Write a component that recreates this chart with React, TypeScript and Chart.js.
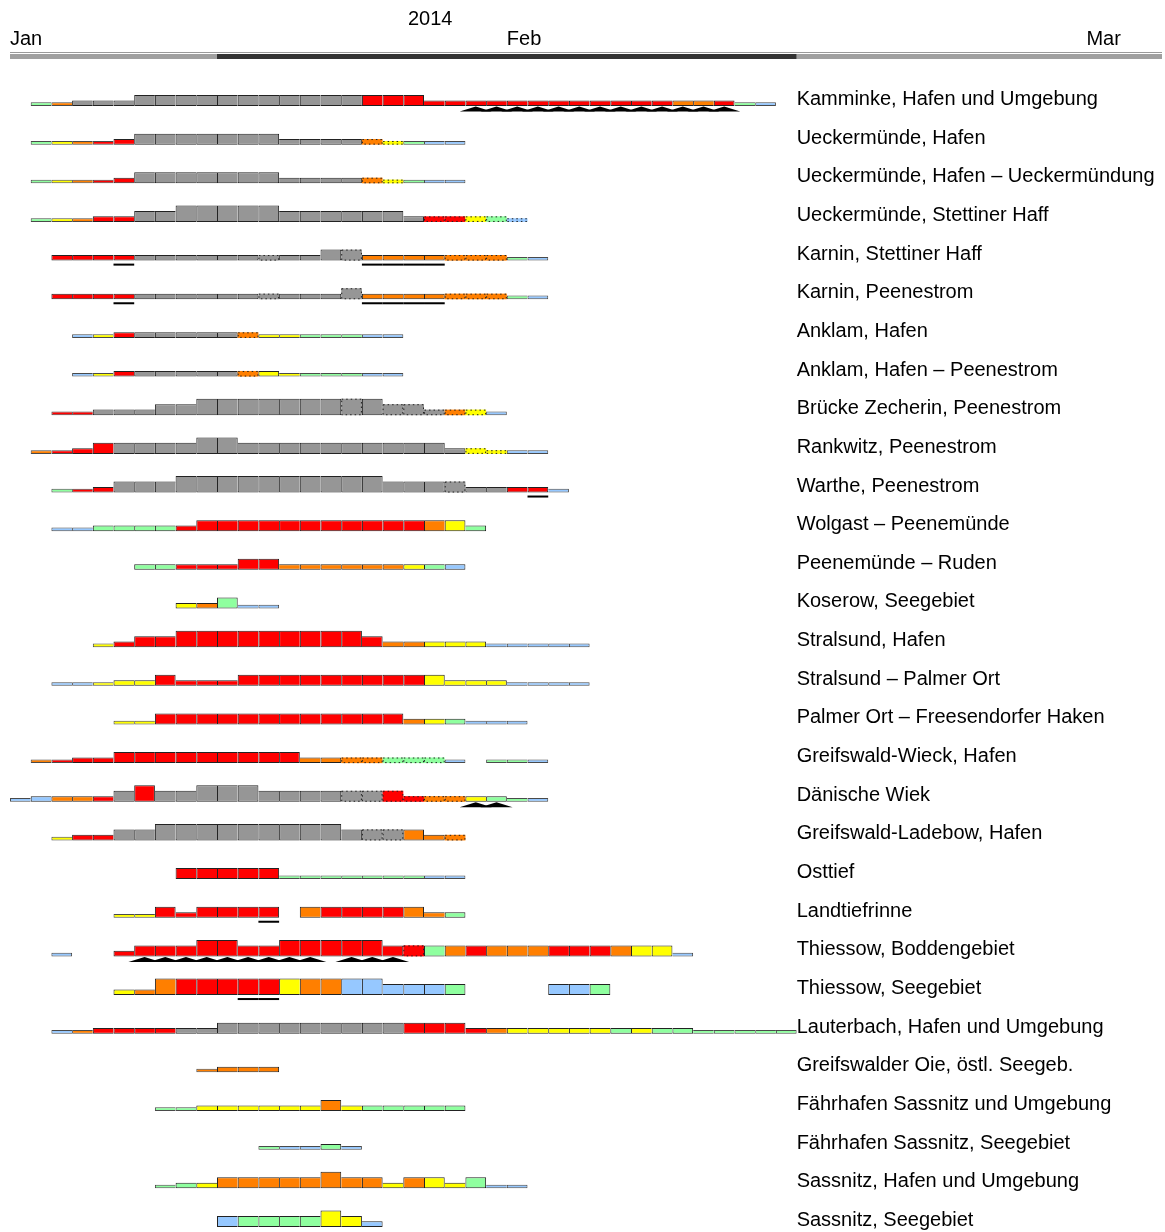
import React, { useEffect, useRef } from 'react';
import { Chart, registerables } from 'chart.js';

Chart.register(...registerables);

// ---------- data ----------
const rowLabels = [
  'Kamminke, Hafen und Umgebung',
  'Ueckermünde, Hafen',
  'Ueckermünde, Hafen – Ueckermündung',
  'Ueckermünde, Stettiner Haff',
  'Karnin, Stettiner Haff',
  'Karnin, Peenestrom',
  'Anklam, Hafen',
  'Anklam, Hafen – Peenestrom',
  'Brücke Zecherin, Peenestrom',
  'Rankwitz, Peenestrom',
  'Warthe, Peenestrom',
  'Wolgast – Peenemünde',
  'Peenemünde – Ruden',
  'Koserow, Seegebiet',
  'Stralsund, Hafen',
  'Stralsund – Palmer Ort',
  'Palmer Ort – Freesendorfer Haken',
  'Greifswald-Wieck, Hafen',
  'Dänische Wiek',
  'Greifswald-Ladebow, Hafen',
  'Osttief',
  'Landtiefrinne',
  'Thiessow, Boddengebiet',
  'Thiessow, Seegebiet',
  'Lauterbach, Hafen und Umgebung',
  'Greifswalder Oie, östl. Seegeb.',
  'Fährhafen Sassnitz und Umgebung',
  'Fährhafen Sassnitz, Seegebiet',
  'Sassnitz, Hafen und Umgebung',
  'Sassnitz, Seegebiet',
];

// first day of each row (days counted from 8 Jan 2014)
const rowStarts = [1, 1, 1, 1, 2, 2, 3, 3, 2, 1, 2, 2, 6, 8, 4, 2, 5, 1, 0, 2, 8, 5, 2, 5, 2, 9, 7, 12, 7, 10];

// daily codes: letter = ice type, digit = thickness class, d = dotted, u = underline, t = ridges, '-' = no report
const rowCells: string[][] = [
  ['g1','o1','s2','s2','s2','s3','s3','s3','s3','s3','s3','s3','s3','s3','s3','s3','r3','r3','r3','r2','r2','r2t','r2t','r2t','r2t','r2t','r2t','r2t','r2t','r2t','r2t','o2t','o2t','r2t','g1','b1'],
  ['g1','y1','o1','r1','r2','s3','s3','s3','s3','s3','s3','s3','s2','s2','s2','s2','o2d','y1d','g1','b1','b1'],
  ['g1','y1','o1','r1','r2','s3','s3','s3','s3','s3','s3','s3','s2','s2','s2','s2','o2d','y1d','g1','b1','b1'],
  ['g1','y1','o1','r2','r2','s3','s3','s4','s4','s4','s4','s4','s3','s3','s3','s3','s3','s3','s2','r2d','r2d','y2d','g2d','b1d'],
  ['r2','r2','r2','r2u','s2','s2','s2','s2','s2','s2','s2d','s2','s2','s3','s3d','o2u','o2u','o2u','o2u','o2d','o2d','o2d','g1','b1'],
  ['r2','r2','r2','r2u','s2','s2','s2','s2','s2','s2','s2d','s2','s2','s2','s3d','o2u','o2u','o2u','o2u','o2d','o2d','o2d','g1','b1'],
  ['b1','y1','r2','s2','s2','s2','s2','s2','o2d','y1','y1','g1','g1','g1','b1','b1'],
  ['b1','y1','r2','s2','s2','s2','s2','s2','o2d','y2','y1','g1','g1','g1','b1','b1'],
  ['r1','r1','s2','s2','s2','s3','s3','s4','s4','s4','s4','s4','s4','s4','s4d','s4','s3d','s3d','s2d','o2d','y2d','b1'],
  ['o1','r1','r2','r3','s3','s3','s3','s3','s4','s4','s3','s3','s3','s3','s3','s3','s3','s3','s3','s3','s2','y2d','y1d','b1','b1'],
  ['g1','r1','r2','s3','s3','s3','s4','s4','s4','s4','s4','s4','s4','s4','s4','s4','s3','s3','s3','s3d','s2','s2','r2','r2u','b1'],
  ['b1','b1','g2','g2','g2','g2','r2','r3','r3','r3','r3','r3','r3','r3','r3','r3','r3','r3','o3','y3','g2'],
  ['g2','g2','r2','r2','r2','r3','r3','o2','o2','o2','o2','o2','o2','y2','g2','b2'],
  ['y2','o2','g3','b1','b1'],
  ['y1','r2','r3','r3','r4','r4','r4','r4','r4','r4','r4','r4','r4','r3','o2','o2','y2','y2','y2','b1','b1','b1','b1','b1'],
  ['b1','b1','y1','y2','y2','r3','r2','r2','r2','r3','r3','r3','r3','r3','r3','r3','r3','r3','y3','y2','y2','y2','b1','b1','b1','b1'],
  ['y1','y1','r3','r3','r3','r3','r3','r3','r3','r3','r3','r3','r3','r3','o2','y2','g2','b1','b1','b1'],
  ['o1','r1','r2','r2','r3','r3','r3','r3','r3','r3','r3','r3','r3','o2','o2','o2d','o2d','g2d','g2d','g2d','b1','-','g1','g1','b1'],
  ['b1','b2','o2','o2','r2','s3','r4','s3','s3','s4','s4','s4','s3','s3','s3','s3','s3d','s3d','r3d','r2d','o2d','o2d','y2t','g2t','g1','b1'],
  ['y1','r2','r2','s3','s3','s4','s4','s4','s4','s4','s4','s4','s4','s4','s3','s3d','s3d','o3','o2','o2d'],
  ['r3','r3','r3','r3','r3','g1','g1','g1','g1','g1','g1','g1','b1','b1'],
  ['y1','y1','r3','r2','r3','r3','r3','r3u','-','o3','r3','r3','r3','r3','o3','o2','g2'],
  ['b1','-','-','r2','r3t','r3t','r3t','r4t','r4t','r3t','r3t','r4t','r4t','r4','r4t','r4t','r3t','r3d','g3','o3','r3','o3','o3','o3','r3','r3','r3','o3','y3','y3','b1'],
  ['y2','o2','o4','r4','r4','r4','r4u','r4u','y4','o4','o4','b4','b4','b3','b3','b3','g3','-','-','-','-','b3','b3','g3'],
  ['b1','o1','r2','r2','r2','r2','s2','s2','s3','s3','s3','s3','s3','s3','s3','s3','s3','r3','r3','r3','r2','o2','y2','y2','y2','y2','y2','g2','y2','g2','g2','g1','g1','g1','g1','g1'],
  ['o1','o2','o2','o2'],
  ['g1','g1','y2','y2','y2','y2','y2','y2','o3','y2','g2','g2','g2','g2','g2'],
  ['g1','b1','b1','g2','b1'],
  ['g1','g2','y2','o3','o3','o3','o3','o3','o4','o3','o3','y2','o3','y3','y2','g3','b1','b1'],
  ['b3','g3','g3','g3','g3','y4','y3','b2'],
];

const monthTicks = [0, 24, 52];
const monthLabels = ['Jan', 'Feb', 'Mar'];
const yearLabel = '2014';
const yearCenterDay = 20.3;
const seasonSpan = [10, 38];
const labelDay = 38;
const axisMaxDay = 55.65;

// ---------- styles ----------
const iceColors: Record<string, string> = {
  s: '#969696',
  r: '#ff0000',
  o: '#ff7f00',
  y: '#ffff00',
  g: '#8fff9f',
  b: '#96c8ff',
};
const levelHeight = [0, 0.095, 0.145, 0.285, 0.427];
const FONT = '"Liberation Sans", Arial, Helvetica, sans-serif';

type Cell = { day: number; type: string; level: number; dotted: boolean; under: boolean; tri: boolean };

function parseRow(start: number, codes: string[]): Cell[] {
  const out: Cell[] = [];
  codes.forEach((code, k) => {
    if (code === '-') return;
    out.push({
      day: start + k,
      type: code[0],
      level: Number(code[1]),
      dotted: code.includes('d'),
      under: code.includes('u'),
      tri: code.includes('t'),
    });
  });
  return out;
}

const parsedRows = rowCells.map((codes, i) => parseRow(rowStarts[i], codes));

const overlayPlugin = {
  id: 'iceOverlay',
  afterDatasetsDraw(chart: any) {
    const { ctx } = chart;
    const xs = chart.scales.x;
    const ys = chart.scales.y;
    ctx.save();
    parsedRows.forEach((cells, i) => {
      const base = ys.getPixelForValue(i);
      cells.forEach((c) => {
        const x0 = xs.getPixelForValue(c.day);
        const x1 = xs.getPixelForValue(c.day + 1);
        const top = ys.getPixelForValue(i - levelHeight[c.level]);
        if (c.dotted) {
          ctx.strokeStyle = '#222';
          ctx.lineWidth = 1;
          ctx.setLineDash([1.5, 3]);
          ctx.strokeRect(x0 + 0.5, top + 0.5, x1 - x0 - 1, base - top - 1);
          ctx.setLineDash([]);
        }
        if (c.under) {
          ctx.fillStyle = '#000';
          ctx.fillRect(x0, base + 3, x1 - x0, 2);
        }
        if (c.tri) {
          const cx = (x0 + x1) / 2;
          const w = (x1 - x0) * 0.78;
          ctx.fillStyle = '#000';
          ctx.beginPath();
          ctx.moveTo(cx - w, base + 5.5);
          ctx.lineTo(cx + w, base + 5.5);
          ctx.lineTo(cx, base + 0.5);
          ctx.closePath();
          ctx.fill();
        }
      });
      ctx.fillStyle = '#000';
      ctx.font = `20px ${FONT}`;
      ctx.textAlign = 'left';
      ctx.textBaseline = 'alphabetic';
      ctx.fillText(rowLabels[i], xs.getPixelForValue(labelDay), base - 1);
    });

    // header bar
    const hx0 = xs.getPixelForValue(0);
    const hx1 = xs.getPixelForValue(axisMaxDay);
    const d0 = xs.getPixelForValue(seasonSpan[0]);
    const d1 = xs.getPixelForValue(seasonSpan[1]);
    ctx.fillStyle = '#9a9a9a';
    ctx.fillRect(hx0, 52, hx1 - hx0, 1);
    ctx.fillStyle = '#a0a0a0';
    ctx.fillRect(hx0, 54, d0 - hx0, 5);
    ctx.fillRect(d1, 54, hx1 - d1, 5);
    ctx.fillStyle = '#333';
    ctx.fillRect(d0, 54, d1 - d0, 5);

    ctx.fillStyle = '#000';
    ctx.font = `20px ${FONT}`;
    ctx.textAlign = 'center';
    ctx.textBaseline = 'middle';
    ctx.fillText(yearLabel, xs.getPixelForValue(yearCenterDay), 19);
    ctx.restore();
  },
};

export default function App() {
  const ref = useRef<HTMLCanvasElement | null>(null);

  useEffect(() => {
    if (!ref.current) return;
    const datasets = parsedRows.map((cells, i) => {
      const byDay = new Map<number, Cell>();
      cells.forEach((c) => byDay.set(c.day, c));
      const solidH = (c?: Cell) => (c && !c.dotted ? levelHeight[c.level] : -1);
      const borders = cells.map((c) => {
        if (c.dotted) return 0;
        const h = levelHeight[c.level];
        const prev = solidH(byDay.get(c.day - 1));
        const next = solidH(byDay.get(c.day + 1));
        return { top: 1, bottom: 1, left: prev <= h ? 1 : 0, right: next < h ? 1 : 0 };
      });
      return {
        label: rowLabels[i],
        data: cells.map((c) => ({ x: c.day + 0.5, y: [i - levelHeight[c.level], i] })),
        backgroundColor: cells.map((c) => iceColors[c.type]),
        borderColor: cells.map((c) => (c.level === 1 ? '#4a4a4a' : '#222222')),
        borderWidth: (ctx: any) => borders[ctx.dataIndex],
        borderSkipped: false,
        inflateAmount: 0,
        grouped: false,
        barPercentage: 1,
        categoryPercentage: 1,
      };
    });

    const chart = new Chart(ref.current, {
      type: 'bar',
      data: { datasets: datasets as any },
      options: {
        animation: false,
        responsive: false,
        devicePixelRatio: 1,
        layout: { padding: { left: 10, right: 3, top: 0, bottom: 0 } },
        plugins: { legend: { display: false }, tooltip: { enabled: false } },
        scales: {
          x: {
            type: 'linear',
            position: 'top',
            offset: false,
            min: 0,
            max: axisMaxDay,
            grid: { display: false, drawTicks: false, offset: false },
            border: { display: false },
            afterBuildTicks: (s: any) => {
              s.ticks = monthTicks.map((v) => ({ value: v }));
            },
            afterFit: (s: any) => {
              s.height = 62;
              s.paddingLeft = 0;
              s.paddingRight = 0;
            },
            ticks: {
              autoSkip: false,
              maxRotation: 0,
              align: 'start',
              padding: 0,
              color: '#000',
              font: { family: FONT, size: 20, lineHeight: 2.3 },
              callback: (_v: any, idx: number) => monthLabels[idx],
            },
          },
          y: {
            type: 'linear',
            reverse: true,
            min: -1.138,
            max: 29.13,
            display: false,
          },
        },
      } as any,
      plugins: [overlayPlugin],
    });
    return () => chart.destroy();
  }, []);

  return (
    <div style={{ position: 'absolute', left: 0, top: 0, width: 1165, height: 1232, background: '#fff' }}>
      <canvas ref={ref} width={1165} height={1232} style={{ display: 'block', width: 1165, height: 1232 }} />
    </div>
  );
}
